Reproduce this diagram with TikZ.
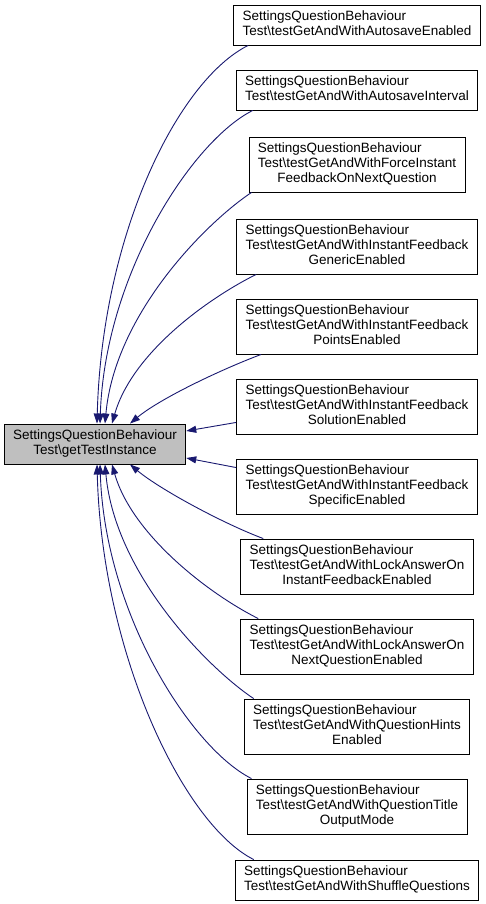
\documentclass[tikz,border=0pt]{standalone}
\usepackage{fontspec}
\setmainfont{Liberation Sans}
\usetikzlibrary{arrows.meta}
\definecolor{edgeblue}{HTML}{191970}
\definecolor{nodegray}{HTML}{BFBFBF}
\newcommand{\twolines}[2]{\begin{tabular}{@{}l@{}}#1\\\multicolumn{1}{@{}c@{}}{#2}\end{tabular}}
\newcommand{\threelines}[3]{\begin{tabular}{@{}l@{}}#1\\#2\\\multicolumn{1}{@{}c@{}}{#3}\end{tabular}}
\newcommand{\cls}{SettingsQuestionBehaviour}
\begin{document}
\begin{tikzpicture}[x=1pt,y=-1pt,line join=miter,>={Triangle[length=10pt,width=7pt]}]
\tikzset{box/.style={draw=black,line width=0.9pt,fill=white,inner xsep=9pt,inner ysep=5pt,
font=\fontsize{13.5}{15}\selectfont},
call/.style={draw=edgeblue,line width=0.9pt,->}
}
\useasboundingbox (0,0) rectangle (485,904);
% called function
\node[box,fill=nodegray] (main) at (95,444) {\twolines{\cls}{Test\textbackslash getTestInstance}};
% callers
\node[box] (t1) at (357,25) {\twolines{\cls}{Test\textbackslash testGetAndWithAutosaveEnabled}};
\node[box] (t2) at (357,90) {\twolines{\cls}{Test\textbackslash testGetAndWithAutosaveInterval}};
\node[box] (t3) at (357,164.5) {\threelines{\cls}{Test\textbackslash testGetAndWithForceInstant}{FeedbackOnNextQuestion}};
\node[box] (t4) at (357,246.5) {\threelines{\cls}{Test\textbackslash testGetAndWithInstantFeedback}{GenericEnabled}};
\node[box] (t5) at (357,326.5) {\threelines{\cls}{Test\textbackslash testGetAndWithInstantFeedback}{PointsEnabled}};
\node[box] (t6) at (357,406.5) {\threelines{\cls}{Test\textbackslash testGetAndWithInstantFeedback}{SolutionEnabled}};
\node[box] (t7) at (357,486.5) {\threelines{\cls}{Test\textbackslash testGetAndWithInstantFeedback}{SpecificEnabled}};
\node[box] (t8) at (357,566.5) {\threelines{\cls}{Test\textbackslash testGetAndWithLockAnswerOn}{InstantFeedbackEnabled}};
\node[box] (t9) at (357,646.5) {\threelines{\cls}{Test\textbackslash testGetAndWithLockAnswerOn}{NextQuestionEnabled}};
\node[box] (t10) at (357,726.5) {\threelines{\cls}{Test\textbackslash testGetAndWithQuestionHints}{Enabled}};
\node[box] (t11) at (357,806.5) {\threelines{\cls}{Test\textbackslash testGetAndWithQuestionTitle}{OutputMode}};
\node[box] (t12) at (357,880) {\twolines{\cls}{Test\textbackslash testGetAndWithShuffleQuestions}};
% calls, upper half
\draw[call] ([xshift=15pt]t1.south west) .. controls +(-70,35) and +(5,-190) .. ([xshift=2pt]main.north);
\draw[call] ([xshift=17pt]t2.south west) .. controls +(-60,30) and +(5,-150) .. ([xshift=5pt]main.north);
\draw[call] ([xshift=3pt]t3.south west) .. controls +(-45,30) and +(10,-110) .. ([xshift=10pt]main.north);
\draw[call] ([xshift=20pt]t4.south west) .. controls +(-50,25) and +(20,-70) .. ([xshift=17pt]main.north);
\draw[call] ([xshift=25pt]t5.south west) .. controls +(-40,15) and +(30,-25) .. ([xshift=35pt]main.north);
\draw[call] ([yshift=12pt]t6.south west) -- ([yshift=13pt]main.east);
% calls, lower half
\draw[call] ([yshift=-9pt]t7.north west) -- ([yshift=-14pt]main.east);
\draw[call] ([xshift=23pt]t8.north west) .. controls +(-40,-15) and +(30,25) .. ([xshift=35pt]main.south);
\draw[call] ([xshift=18pt]t9.north west) .. controls +(-50,-25) and +(20,70) .. ([xshift=17pt]main.south);
\draw[call] ([xshift=10pt]t10.north west) .. controls +(-45,-30) and +(10,110) .. ([xshift=10pt]main.south);
\draw[call] ([xshift=5pt]t11.north west) .. controls +(-60,-30) and +(5,150) .. ([xshift=5pt]main.south);
\draw[call] ([xshift=19pt]t12.north west) .. controls +(-70,-35) and +(5,190) .. ([xshift=2pt]main.south);
\end{tikzpicture}
\end{document}
